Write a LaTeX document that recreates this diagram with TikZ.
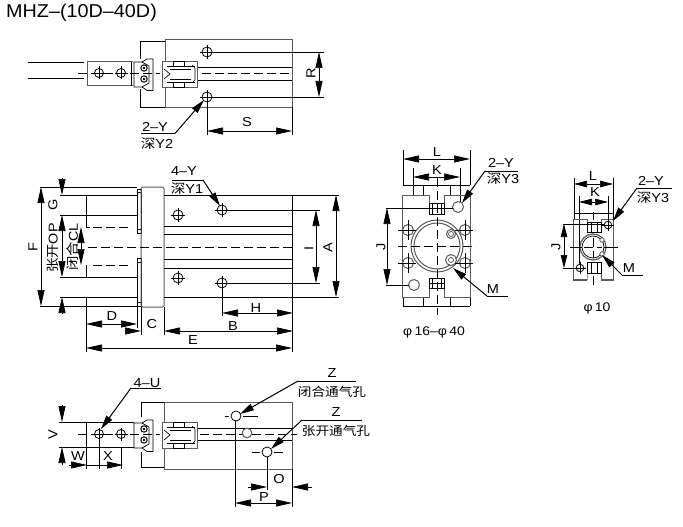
\documentclass[tikz,border=0pt]{standalone}
\usepackage{fontspec}
\setmainfont{Liberation Sans}
\newfontfamily\cjk{Noto Sans CJK SC}
\usetikzlibrary{arrows.meta}
\definecolor{edgegray}{HTML}{5A5A5A}
\tikzset{
  thin line/.style={line width=0.7pt,black},
  outline/.style={line width=1pt,edgegray},
  center line/.style={line width=0.6pt,black,dash pattern=on 9pt off 4pt on 9pt off 4pt},
  dimen/.style={line width=0.7pt,black,{Triangle[length=16pt,width=7pt]}-{Triangle[length=16pt,width=7pt]}},
  dimen small/.style={line width=0.7pt,black,{Triangle[length=13pt,width=6.5pt]}-{Triangle[length=13pt,width=6.5pt]}},
  arrowin/.style={line width=0.7pt,black,-{Triangle[length=16pt,width=7pt]}},
  leader/.style={line width=1pt,black,-{Triangle[length=14pt,width=7pt]}},
  lbl/.style={inner sep=0pt,xscale=1.12,font=\fontsize{13}{14}\selectfont,text=black},
  vlbl/.style={rotate=90,lbl},
  mixed/.style={font=\fontsize{12.8}{14}\selectfont},
  cnlbl/.style={lbl,font=\fontsize{12.2}{14}\selectfont\cjk},
  philbl/.style={lbl,font=\fontsize{12.5}{14}\selectfont},
  hole/.style={line width=0.8pt,black,fill=white},
}
% hole with cross hair: x, y, radius
\newcommand{\drillhole}[3]{%
  \draw[hole] (#1,#2) circle (#3);
  \draw[thin line] (#1-#3-2,#2) -- (#1+#3+2,#2) (#1,#2-#3-2) -- (#1,#2+#3+2);
}
% jaw and piston seen from the side, around the centre line
\newcommand{\jawgroup}{%
  \draw[thin line,fill=white] (134,-11) -- (142,-11) -- (147,-14) -- (153,-14) -- (153,17.5) -- (147,17.5) -- (142,14) -- (134,14) -- cycle;
  \draw[thin line] (142,-11) -- (149,-7) -- (149,10) -- (142,14);
  \draw[line width=1pt,black] (144,-5) circle (3.2) (144,6) circle (3.2);
  \fill[black] (144,-5) circle (1.3) (144,6) circle (1.3);
  \draw[outline,line width=0.9pt,fill=white] (162,-12) rectangle (197,14);
  \draw[thin line] (173,-12) rectangle (184,-7) (173,9) rectangle (184,14);
  \draw[thin line] (167,-7) -- (195,-7) (167,9) -- (195,9);
  \draw[thin line] (164,-4) -- (170,1) -- (164,6);
  \draw[thin line] (170,-4) -- (191,-4) (170,6) -- (191,6);
  \draw[thin line] (192,-8) -- (195,-5) -- (195,7) -- (192,10);
}
\begin{document}
\begin{tikzpicture}[x=1pt,y=-1pt]
\useasboundingbox (0,0) rectangle (683,527);
\fill[white] (0,0) rectangle (683,527);
\node[lbl,anchor=west,xscale=0.95,font=\fontsize{18.6}{20}\selectfont] (title) at (6,13) {MHZ–(10D–40D)};

%% ---------- top view ----------
\draw[thin line] (28,62) -- (84,62) (28,78) -- (84,78);
\draw[thin line] (140,59) -- (140,41.5) -- (165,41.5) (140,89) -- (140,107) -- (165,107);
\draw[outline] (165,107) -- (292,107) -- (292,40) -- (165,40) -- cycle;
\draw[thin line] (197,67.5) -- (292,67.5) (197,80) -- (292,80);
\draw[outline] (133,62) -- (87,62) -- (87,86) -- (133,86);
\draw[thin line] (131,62) -- (131,86);
\begin{scope}[shift={(0,73)}]\jawgroup\end{scope}
\draw[center line] (78,73) -- (160,73) (202,73) -- (292,73);
\drillhole{99}{73}{4.5}
\drillhole{121}{73}{4.5}
\drillhole{207}{52}{5}
\drillhole{207}{97}{5}
\draw[thin line] (212,52) -- (324,52) (212,97) -- (324,97);
\draw[thin line] (207,102) -- (207,135) (292,107) -- (292,135);
\draw[dimen] (319,52) -- (319,97);
\draw[dimen] (207,131) -- (292,131);
\node[vlbl] (labR) at (311,73) {R};
\node[lbl] (labS) at (247,122) {S};
\coordinate (l1a) at (141,133.5); \coordinate (l1b) at (175,133.5); \coordinate (l1c) at (204,100);
\draw[thin line] (l1a) -- (l1b);
\draw[leader] (l1b) -- (l1c);
\node[lbl] (lab2Y) at (155,127) {2–Y};
\node[lbl] (labY2) at (157,144) {{\cjk 深}Y2};

%% ---------- front view ----------
\draw[thin line] (40,187) -- (137,187) (60,195) -- (137,195) (60,215) -- (137,215)
                 (60,277) -- (137,277) (60,297) -- (137,297) (40,306) -- (137,306);
\draw[thin line] (137,189) rectangle (141,233) (137,258) rectangle (141,306);
\draw[thin line,fill=white] (137,229) rectangle (141,233) (137,258) rectangle (141,262) (137,189) rectangle (141,192) (137,302) rectangle (141,306);
\draw[outline,rounded corners=1.5pt] (141,187) rectangle (164,307);
\draw[thin line] (164,195) -- (339,195) (164,297) -- (339,297)
                 (164,226) -- (292,226) (164,234) -- (292,234)
                 (164,259) -- (292,259) (164,268) -- (292,268);
\draw[thin line] (292,195) -- (292,352);
\draw[thin line] (86,195) -- (86,227) -- (90,227) (86,265) -- (86,277) (86,297) -- (86,352);
\draw[center line] (93,227) -- (132,227) (93,265) -- (132,265);
\draw[center line] (88,247) -- (295,247);
\drillhole{178}{215}{5}
\drillhole{178}{278}{5}
\drillhole{222}{210}{5}
\drillhole{222}{283}{5}
\draw[thin line] (228,210) -- (320,210) (228,283) -- (320,283);
\draw[thin line] (222,289) -- (222,316);
\draw[thin line] (137,306) -- (137,328) (141,307) -- (141,335) (164,307) -- (164,335);
\draw[dimen] (41,187) -- (41,306);
\draw[dimen] (62,215) -- (62,277);
\draw[dimen] (81,227) -- (81,265);
\draw[arrowin] (62,178) -- (62,195);
\draw[arrowin] (62,313) -- (62,297);
\draw[dimen] (336,195) -- (336,297);
\draw[dimen] (316,210) -- (316,283);
\draw[dimen] (222,313) -- (293,313);
\draw[dimen] (164,331) -- (293,331);
\draw[arrowin] (125,331) -- (141,331);
\draw[dimen] (86,324) -- (137,324);
\draw[dimen] (86,348) -- (292,348);
\node[vlbl] (labF) at (33,247) {F};
\node[vlbl] (labG) at (53,205) {G};
\node[vlbl,mixed] (labOP) at (53,248) {{\cjk 张开}OP};
\node[vlbl,mixed] (labCL) at (73,247) {{\cjk 闭合}CL};
\node[vlbl] (labI) at (309,248) {I};
\node[vlbl] (labA) at (328,248) {A};
\node[lbl] (labH) at (256,308) {H};
\node[lbl] (labB) at (233,326) {B};
\node[lbl] (labC) at (152,324) {C};
\node[lbl] (labD) at (112,316) {D};
\node[lbl] (labE) at (193,340) {E};
\coordinate (l2a) at (172,180); \coordinate (l2b) at (203,180); \coordinate (l2c) at (220,206);
\draw[thin line] (l2a) -- (l2b);
\draw[leader] (l2b) -- (l2c);
\node[lbl] (lab4Y) at (184,171.5) {4–Y};
\node[lbl] (labY1) at (187,188.5) {{\cjk 深}Y1};

%% ---------- end view, 16 to 40 ----------
\draw[thin line] (403,150) -- (403,185) (470,150) -- (470,185) (413,168) -- (413,185) (460,168) -- (460,203);
\draw[thin line] (403,185) -- (470,185) (423,185) -- (423,195) (450,185) -- (450,195);
\draw[thin line] (413,185) -- (413,195);
\draw[thin line] (403,306) -- (470,306) (403,297) -- (403,306) (470,297) -- (470,306) (423,297) -- (423,306) (450,297) -- (450,306);
\draw[outline] (402,297) -- (402,195) -- (429,195) -- (429,203) -- (444,203) -- (444,195) -- (470,195) -- (470,297) -- (444,297) -- (444,288) -- (429,288) -- (429,297) -- cycle;
\draw[thin line,fill=white] (429,203) rectangle (444,214) (429,278) rectangle (444,288);
\draw[thin line] (432,203) -- (432,214) (441,203) -- (441,214) (432,278) -- (432,288) (441,278) -- (441,288) (429,208) -- (444,208) (429,283) -- (444,283);
\draw[outline,fill=white] (437,246) circle (26);
\draw[outline,fill=white] (437,246) circle (23);
\draw[center line] (398,246) -- (476,246);
\draw[center line] (437,178) -- (437,315);
\draw[outline,fill=white] (451,234) circle (4.5) (451,260) circle (5.5);
\draw[outline,line width=0.8pt,fill=white] (451,234) circle (2.5) (451,260) circle (2.5);
\foreach \hx/\hy in {408/230,408/263,465/230,465/263} {
  \draw[outline,fill=white] (\hx,\hy) circle (5.5);
  \draw[thin line] (\hx-10,\hy) -- (\hx+8,\hy) (\hx,\hy-10) -- (\hx,\hy+10);
}
\draw[outline,fill=white] (458,207) circle (5.5);
\draw[outline,fill=white] (414,285) circle (5.5);
\draw[thin line] (386,208) -- (453,208) (386,285) -- (409,285);
\draw[dimen] (387,208) -- (387,285);
\draw[dimen] (403,159) -- (470,159);
\draw[dimen] (413,177) -- (460,177);
\node[vlbl] (labJ) at (381,247) {J};
\node[lbl] (labL) at (437,152.5) {L};
\node[lbl] (labK) at (437,170.5) {K};
\coordinate (l3a) at (518,171); \coordinate (l3b) at (485,171); \coordinate (l3c) at (462,203);
\draw[thin line] (l3a) -- (l3b);
\draw[leader] (l3b) -- (l3c);
\node[lbl] (lab2Ya) at (501,163) {2–Y};
\node[lbl] (labY3a) at (503,178.5) {{\cjk 深}Y3};
\coordinate (l4a) at (508,296); \coordinate (l4b) at (487,296); \coordinate (l4c) at (453,268);
\draw[thin line] (l4a) -- (l4b);
\draw[leader] (l4b) -- (l4c);
\node[lbl] (labMa) at (493,289) {M};
\node[philbl] (labPhiA) at (434,332) {φ\,16–φ\,40};

%% ---------- end view, 10 ----------
\draw[thin line] (574,178) -- (574,219) (613,178) -- (613,219) (579,196) -- (579,268) (608,196) -- (608,225);
\draw[thin line] (574,213) -- (613,213);
\draw[outline] (573,280) -- (573,219) -- (587,219) -- (587,223) (601,223) -- (601,219) -- (613,219) -- (613,280) -- (601,280) -- (601,273) (587,273) -- (587,280) -- cycle;
\draw[line width=1.4pt,edgegray] (573,280) -- (587,280) (601,280) -- (613,280);
\draw[thin line,fill=white] (587,222) rectangle (601,232) (587,262) rectangle (601,273);
\draw[thin line] (591,222) -- (591,232) (597,222) -- (597,232) (591,262) -- (591,273) (597,262) -- (597,273);
\draw[outline,line width=1.2pt,fill=white] (593,247) circle (13);
\draw[thin line,fill=white] (593,247) circle (11);
\draw[thin line] (570,247) -- (582,247) (604,247) -- (618,247) (593,212) -- (593,220) (593,276) -- (593,285);
\draw[center line] (584,247) -- (602,247) (593,238) -- (593,258);
\draw[outline,line width=0.8pt,fill=white] (602,240) circle (2.2) (602,254) circle (2.2);
\drillhole{608}{225}{3.8}
\drillhole{580}{268}{3.8}
\draw[thin line] (563,224) -- (604,224) (563,268) -- (576,268);
\draw[dimen small] (564,224) -- (564,268);
\draw[dimen small] (574,184) -- (613,184);
\draw[dimen small] (579,202) -- (608,202);
\node[vlbl] (labJb) at (556,247) {J};
\node[lbl] (labLb) at (593,176.5) {L};
\node[lbl] (labKb) at (595,192) {K};
\coordinate (l5a) at (672,188); \coordinate (l5b) at (637,188); \coordinate (l5c) at (613,221);
\draw[thin line] (l5a) -- (l5b);
\draw[leader] (l5b) -- (l5c);
\node[lbl] (lab2Yb) at (651,181) {2–Y};
\node[lbl] (labY3b) at (653,198) {{\cjk 深}Y3};
\coordinate (l6a) at (643,275); \coordinate (l6b) at (622,275); \coordinate (l6c) at (602,255);
\draw[thin line] (l6a) -- (l6b);
\draw[leader] (l6b) -- (l6c);
\node[lbl] (labMb) at (629,268) {M};
\node[philbl] (labPhiB) at (597,308) {φ\,10};

%% ---------- bottom view ----------
\draw[thin line] (59,422) -- (134,422) (59,447) -- (134,447);
\draw[thin line] (86,422) -- (86,469) (99,434) -- (99,469) (121,447) -- (121,469);
\draw[thin line] (141,417) -- (141,402) -- (164,402) (141,452) -- (141,467.5) -- (164,467.5);
\draw[outline] (164,469) -- (292,469) -- (292,402) -- (164,402) -- cycle;
\draw[thin line] (196,428) -- (292,428) (196,440) -- (292,440);
\begin{scope}[shift={(0,434)}]\jawgroup\end{scope}
\draw[center line] (78,434) -- (160,434) (200,434) -- (297,434);
\drillhole{99}{434}{4.5}
\drillhole{121}{434}{4.5}
\draw[hole] (236,416) circle (5);
\draw[thin line] (225,416) -- (229,416) (243,416) -- (258,416);
\draw[outline,fill=white] (247,433) circle (4.8);
\draw[hole] (267,452) circle (5);
\draw[thin line] (252,452) -- (260,452) (274,452) -- (283,452);
\draw[thin line] (235,421) -- (235,507) (267,457) -- (267,490) (292,469) -- (292,507);
\draw[arrowin] (62,405) -- (62,422);
\draw[arrowin] (62,465) -- (62,447);
\draw[thin line] (59,447) -- (66,447);
\draw[arrowin] (69,465) -- (87,465);
\draw[arrowin] (87,465) -- (123,465);
\draw[arrowin] (248,487) -- (267,487);
\draw[arrowin] (312,487) -- (292,487);
\draw[dimen] (235,503) -- (292,503);
\node[vlbl] (labV) at (53,435) {V};
\node[lbl] (labW) at (78,456) {W};
\node[lbl] (labX) at (108,456) {X};
\node[lbl] (labO) at (279,479) {O};
\node[lbl] (labP) at (264,497) {P};
\coordinate (l7a) at (161,388); \coordinate (l7b) at (131,388); \coordinate (l7c) at (101,429);
\draw[thin line] (l7a) -- (l7b);
\draw[leader] (l7b) -- (l7c);
\node[lbl] (lab4U) at (147,383) {4–U};
\coordinate (l8a) at (356,381); \coordinate (l8b) at (298,381); \coordinate (l8c) at (240,414);
\draw[thin line] (l8a) -- (l8b);
\draw[leader] (l8b) -- (l8c);
\node[lbl] (labZa) at (332,373) {Z};
\node[cnlbl] (labZaT) at (332,392) {闭合通气孔};
\coordinate (l9a) at (362,420); \coordinate (l9b) at (302,420); \coordinate (l9c) at (271,449);
\draw[thin line] (l9a) -- (l9b);
\draw[leader] (l9b) -- (l9c);
\node[lbl] (labZb) at (336,412) {Z};
\node[cnlbl] (labZbT) at (336,431) {张开通气孔};
\end{tikzpicture}
\end{document}
